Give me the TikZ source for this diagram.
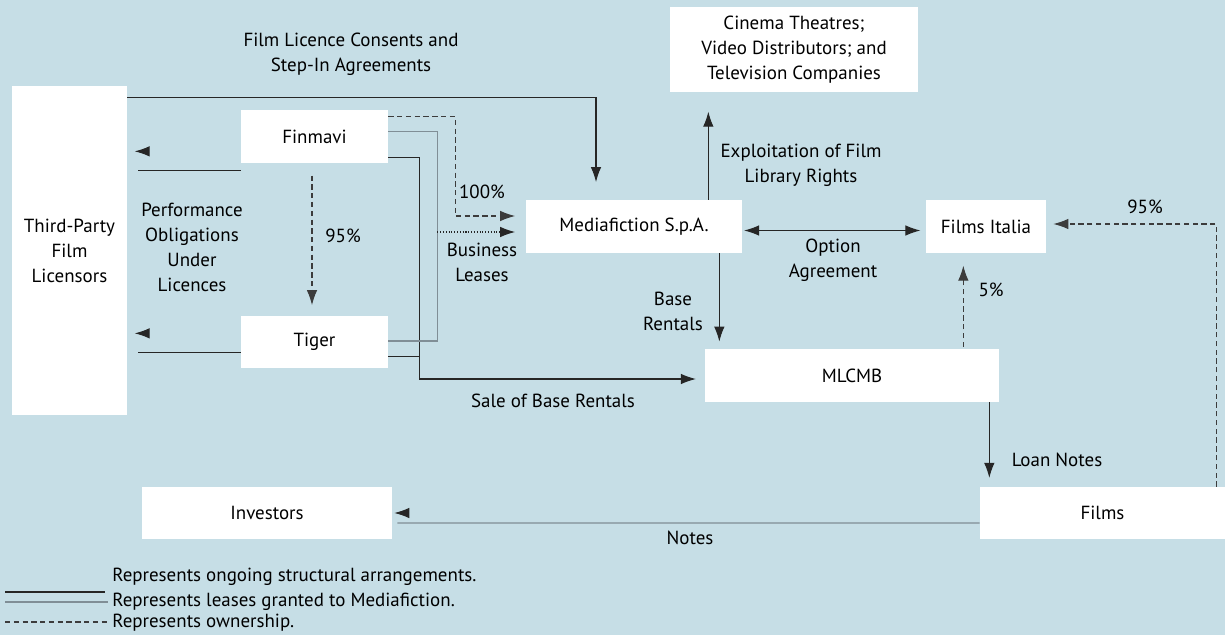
\documentclass[tikz,border=0pt]{standalone}
\usepackage{fontspec}
\setmainfont{PT Sans}
\usetikzlibrary{arrows.meta}
\definecolor{bgc}{RGB}{198,222,230}
\definecolor{leasec}{RGB}{128,142,150}
\definecolor{ownc}{RGB}{60,60,60}
\tikzset{
  box/.style={draw=none, fill=white, inner sep=0pt, align=center,
    font=\fontsize{10.8}{14.2}\selectfont},
  lbl/.style={inner sep=0pt, align=center, font=\fontsize{10.8}{14.2}\selectfont},
  struct/.style={draw=black!85, line width=0.6pt},
  lease/.style={draw=leasec, line width=0.6pt},
  owns/.style={draw=ownc, dashed, line width=0.6pt, dash pattern=on 3pt off 2pt},
  tip/.style={-{Latex[length=0.3cm,width=0.21cm]}}
}
\begin{document}
\begin{tikzpicture}[x=0.02cm, y=-0.02cm]
  \useasboundingbox[fill=bgc] (0,0) rectangle (1225,635);
  % 各方框
  \node[box, minimum width=2.30cm, minimum height=6.58cm] (tpl) at (69.5,250.5) {Third-Party\\Film\\Licensors};
  \node[box, minimum width=2.94cm, minimum height=1.06cm] (fin) at (314.5,136.5) {Finmavi};
  \node[box, minimum width=2.94cm, minimum height=1.04cm] (tig) at (314.5,342) {Tiger};
  \node[box, minimum width=4.32cm, minimum height=1.06cm] (med) at (634,226.5) {Mediafiction S.p.A.};
  \node[box, minimum width=4.96cm, minimum height=1.70cm] (cin) at (794,49.5) {Cinema Theatres;\\Video Distributors; and\\Television Companies};
  \node[box, minimum width=2.40cm, minimum height=1.06cm] (fit) at (986,226.5) {Films Italia};
  \node[box, minimum width=5.88cm, minimum height=1.06cm] (mlc) at (852,375.5) {MLCMB};
  \node[box, minimum width=5.00cm, minimum height=1.04cm] (inv) at (267,513) {Investors};
  \node[box, minimum width=4.90cm, minimum height=1.04cm] (flm) at (1102.5,513) {Films};
  % 结构性安排
  \draw[struct, tip, shorten >=10] ([yshift=-0.24cm]tpl.north east) -| ([xshift=-0.76cm]med.north);
  \draw[struct] ([yshift=-0.14cm]fin.south west) -- ++(-103,0) coordinate (fa);
  \draw[struct, tip] ([shift={(0,-19)}]fa) -- ++(-3,0);
  \draw[struct] ([yshift=0.32cm]tig.south west) -- ++(-103,0) coordinate (ta);
  \draw[struct, tip] ([shift={(0,-19)}]ta) -- ++(-3,0);
  \draw[struct, tip, shorten >=5] ([yshift=0.12cm]fin.south east) -- ++(31,0) |- ([yshift=-0.07cm]mlc.west);
  \draw[struct] ([yshift=0.24cm]tig.south east) -- ++(31,0);
  \draw[struct, tip, shorten >=11] ([xshift=-0.68cm]med.north east) -- ([xshift=-0.68cm]med.north east |- cin.south);
  \draw[struct, tip, shorten >=4] ([xshift=-0.46cm]med.south east) -- ([xshift=-0.46cm]med.south east |- mlc.north);
  \draw[struct, {Latex[length=0.3cm,width=0.21cm]}-{Latex[length=0.3cm,width=0.21cm]}, shorten <=1, shorten >=3] ([yshift=-0.08cm]med.east) -- ([yshift=-0.08cm]fit.west);
  \coordinate (lnA) at ([xshift=-0.2cm]mlc.south east);
  \draw[struct, tip, shorten >=5] (lnA) -- (lnA |- flm.north);
  \draw[lease] ([yshift=-0.2cm]flm.west) -- ([shift={(5,10)}]inv.east);
  \draw[struct, tip] ([shift={(16,0)}]inv.east) -- ++(-14,0);
  % 租赁
  \draw[lease] ([yshift=-0.44cm]fin.north east) -- ++(49,0) coordinate (lb) |- ([yshift=0.02cm]tig.east);
  \coordinate (bl) at (lb |- 0,232);
  \draw[struct, dash pattern=on 0.6pt off 1pt, tip, shorten >=6] (bl) -- (bl -| med.west);
  % 所有权
  \draw[owns, tip, shorten >=6] ([yshift=-0.14cm]fin.north east) -- ++(67,0) |- ([yshift=0.21cm]med.west);
  \draw[owns, tip, shorten <=7, shorten >=6] ([xshift=-0.05cm]fin.south) -- ([xshift=-0.05cm]tig.north);
  \draw[owns, tip, shorten <=1, shorten >=7] ([xshift=-0.72cm]mlc.north east) -- ([xshift=-0.72cm]mlc.north east |- fit.south);
  \draw[owns, tip, shorten >=4] ([xshift=-0.18cm]flm.north east) |- ([yshift=0.05cm]fit.east);
  % 标注
  \node[lbl] (lfc) at (351,54) {Film Licence Consents and\\Step-In Agreements};
  \node[lbl] (lpo) at (192,247) {Performance\\Obligations\\Under\\Licences};
  \node[lbl] (l95a) at (343,236) {95\%};
  \node[lbl] (l100) at (482,192) {100\%};
  \node[lbl] (lbl) at (482,262) {Business\\Leases};
  \node[lbl] (lex) at (801,165) {Exploitation of Film\\Library Rights};
  \node[lbl] (lop) at (833,260) {Option\\Agreement};
  \node[lbl] (lbr) at (673,311) {Base\\Rentals};
  \node[lbl] (l5) at (991,290) {5\%};
  \node[lbl] (l95b) at (1145,207) {95\%};
  \node[lbl] (lln) at (1057,460) {Loan Notes};
  \node[lbl] (lsb) at (553,401) {Sale of Base Rentals};
  \node[lbl] (lno) at (690,538) {Notes};
  % 图例
  \draw[struct] (5,592) -- (105,592);
  \draw[lease] (5,602) -- (108,602);
  \draw[owns] (5,622) -- (108,622);
  \node[lbl, anchor=west] (lg1) at (112,577) {Represents ongoing structural arrangements.};
  \node[lbl, anchor=west] (lg2) at (112,602) {Represents leases granted to Mediafiction.};
  \node[lbl, anchor=west] (lg3) at (112,623) {Represents ownership.};
\end{tikzpicture}
\end{document}
